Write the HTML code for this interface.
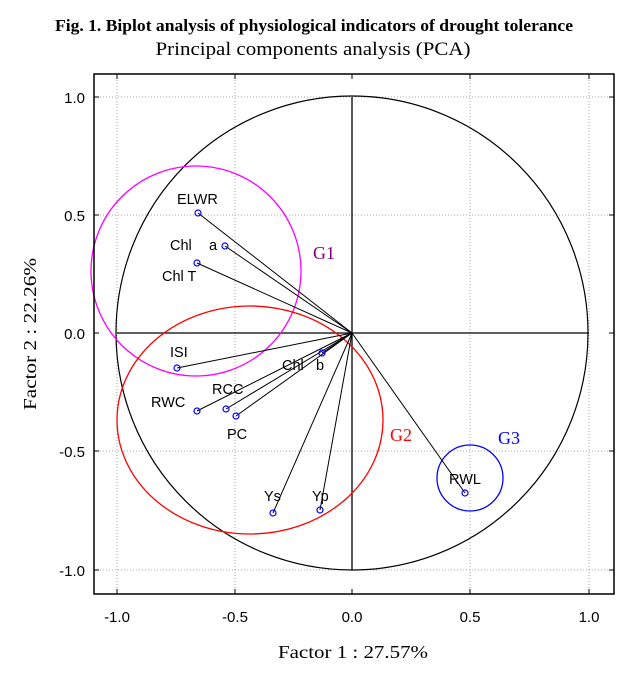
<!DOCTYPE html>
<html><head><meta charset="utf-8"><style>body{margin:0;background:#fff}</style></head><body>
<svg width="641" height="680" viewBox="0 0 641 680" xmlns="http://www.w3.org/2000/svg">
<rect width="641" height="680" fill="#fff"/>
<text x="314" y="31" text-anchor="middle" font-family="Liberation Serif,serif" font-weight="bold" font-size="17" textLength="518" lengthAdjust="spacingAndGlyphs">Fig. 1. Biplot analysis of  physiological indicators of drought tolerance</text>
<text x="313" y="55" text-anchor="middle" font-family="Liberation Serif,serif" font-size="19" textLength="315" lengthAdjust="spacingAndGlyphs">Principal components analysis (PCA)</text>
<g stroke="#aaa" stroke-dasharray="1,2" stroke-width="1">
<line x1="117" y1="74" x2="117" y2="594"/><line x1="235" y1="74" x2="235" y2="594"/><line x1="470" y1="74" x2="470" y2="594"/><line x1="589" y1="74" x2="589" y2="594"/>
<line x1="94" y1="97" x2="614" y2="97"/><line x1="94" y1="215" x2="614" y2="215"/><line x1="94" y1="451" x2="614" y2="451"/><line x1="94" y1="570" x2="614" y2="570"/>
</g>
<g stroke="#000" stroke-width="1">
<line x1="117" y1="589" x2="117" y2="594"/><line x1="235" y1="589" x2="235" y2="594"/><line x1="352" y1="589" x2="352" y2="594"/><line x1="470" y1="589" x2="470" y2="594"/><line x1="589" y1="589" x2="589" y2="594"/>
<line x1="94" y1="97" x2="99" y2="97"/><line x1="94" y1="215" x2="99" y2="215"/><line x1="94" y1="333" x2="99" y2="333"/><line x1="94" y1="451" x2="99" y2="451"/><line x1="94" y1="570" x2="99" y2="570"/>
<line x1="609" y1="97" x2="614" y2="97"/><line x1="609" y1="215" x2="614" y2="215"/><line x1="609" y1="333" x2="614" y2="333"/><line x1="609" y1="451" x2="614" y2="451"/><line x1="609" y1="570" x2="614" y2="570"/>
<line x1="117" y1="74" x2="117" y2="79"/><line x1="235" y1="74" x2="235" y2="79"/><line x1="352" y1="74" x2="352" y2="79"/><line x1="470" y1="74" x2="470" y2="79"/><line x1="589" y1="74" x2="589" y2="79"/>
</g>
<ellipse cx="352" cy="333" rx="236" ry="237" fill="none" stroke="#000" stroke-width="1.2"/>
<line x1="117" y1="333" x2="589" y2="333" stroke="#000" stroke-width="1.3"/>
<line x1="352" y1="97" x2="352" y2="570" stroke="#000" stroke-width="1.3"/>
<circle cx="196" cy="271" r="105" fill="none" stroke="#f0f" stroke-width="1.3"/>
<ellipse cx="250" cy="420" rx="133" ry="114" fill="none" stroke="#f00" stroke-width="1.3"/>
<circle cx="470" cy="478" r="33" fill="none" stroke="#00f" stroke-width="1.3"/>
<g stroke="#000" stroke-width="1">
<line x1="352" y1="333" x2="198" y2="213"/><line x1="352" y1="333" x2="225" y2="246"/><line x1="352" y1="333" x2="197" y2="263"/>
<line x1="352" y1="333" x2="177" y2="368"/><line x1="352" y1="333" x2="197" y2="411"/><line x1="352" y1="333" x2="226" y2="409"/>
<line x1="352" y1="333" x2="236" y2="416"/><line x1="352" y1="333" x2="322" y2="353"/><line x1="352" y1="333" x2="273" y2="513"/>
<line x1="352" y1="333" x2="320" y2="510"/><line x1="352" y1="333" x2="465" y2="493"/>
</g>
<g fill="none" stroke="#00f" stroke-width="1.2">
<circle cx="198" cy="213" r="3"/><circle cx="225" cy="246" r="3"/><circle cx="197" cy="263" r="3"/><circle cx="177" cy="368" r="3"/><circle cx="197" cy="411" r="3"/><circle cx="226" cy="409" r="3"/><circle cx="236" cy="416" r="3"/><circle cx="322" cy="353" r="3"/><circle cx="273" cy="513" r="3"/><circle cx="320" cy="510" r="3"/><circle cx="465" cy="493" r="3"/>
</g>
<g font-family="Liberation Sans,sans-serif" font-size="14.5" fill="#000">
<text x="177" y="204">ELWR</text><text x="170" y="250">Chl</text><text x="209" y="250">a</text><text x="162" y="281">Chl T</text>
<text x="170" y="357">ISI</text><text x="282" y="370">Chl</text><text x="316" y="370">b</text><text x="212" y="394">RCC</text><text x="151" y="407">RWC</text><text x="227" y="439">PC</text>
<text x="264" y="501">Ys</text><text x="312" y="501">Yp</text><text x="449" y="484">RWL</text>
</g>
<g font-family="Liberation Serif,serif" font-size="18">
<text x="313" y="259" fill="#800080">G1</text><text x="390" y="441" fill="#f00">G2</text><text x="498" y="444" fill="#00f">G3</text>
</g>
<rect x="94" y="74" width="520" height="520" fill="none" stroke="#000" stroke-width="1.5"/>
<g font-family="Liberation Sans,sans-serif" font-size="15" text-anchor="middle">
<text x="117" y="622">-1.0</text><text x="235" y="622">-0.5</text><text x="352" y="622">0.0</text><text x="470" y="622">0.5</text><text x="589" y="622">1.0</text>
</g>
<g font-family="Liberation Sans,sans-serif" font-size="15" text-anchor="end">
<text x="85" y="103">1.0</text><text x="85" y="221">0.5</text><text x="85" y="339">0.0</text><text x="85" y="457">-0.5</text><text x="85" y="576">-1.0</text>
</g>
<text x="353" y="658" text-anchor="middle" font-family="Liberation Serif,serif" font-size="18" textLength="150" lengthAdjust="spacingAndGlyphs">Factor 1 : 27.57%</text>
<text transform="translate(36,334) rotate(-90)" text-anchor="middle" font-family="Liberation Serif,serif" font-size="18" textLength="152" lengthAdjust="spacingAndGlyphs">Factor 2 : 22.26%</text>
</svg>
</body></html>
